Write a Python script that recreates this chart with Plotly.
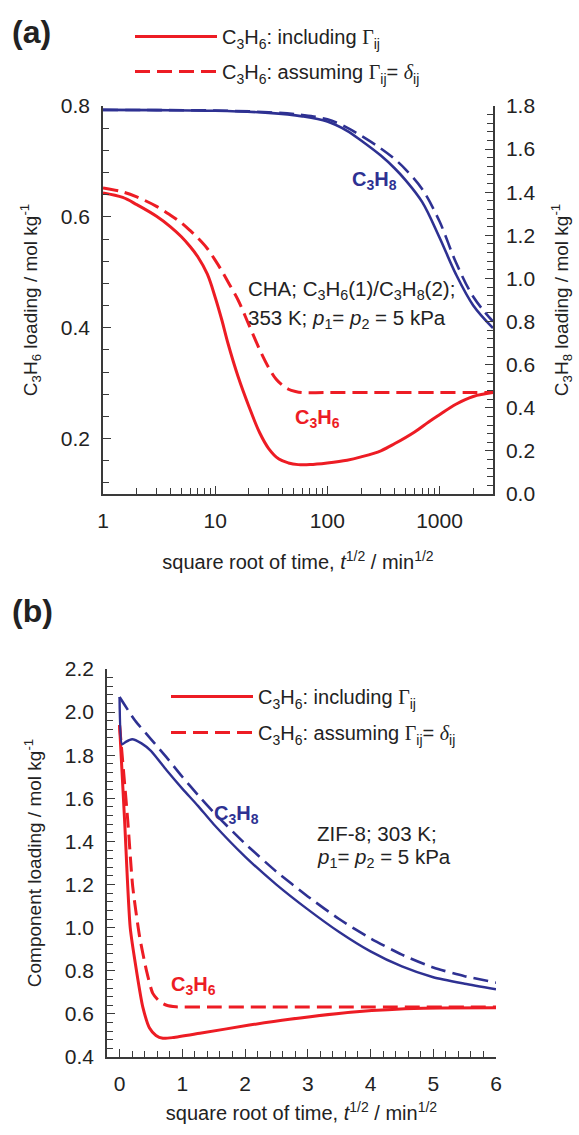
import plotly.graph_objects as go
import math

# ---------------- Panel (a): CHA, log x-axis ----------------
a_c3h6_incl_x = [1, 1.5, 2, 3, 4, 5, 6, 7, 8.5, 10, 11.5, 13, 16, 20, 25, 30, 37, 45, 55, 70, 100, 150, 200, 300, 400, 600, 800, 1000, 1400, 2000, 3000]
a_c3h6_incl_y = [0.643, 0.635, 0.622, 0.601, 0.582, 0.564, 0.546, 0.528, 0.497, 0.455, 0.413, 0.372, 0.312, 0.258, 0.210, 0.182, 0.163, 0.156, 0.153, 0.153, 0.156, 0.161, 0.167, 0.178, 0.191, 0.212, 0.230, 0.243, 0.262, 0.276, 0.283]

a_c3h6_delta_x = [1, 1.5, 2, 3, 4, 5, 6, 7, 8.5, 10, 11.5, 13, 16, 20, 25, 30, 35, 40, 45, 52, 60, 100, 3000]
a_c3h6_delta_y = [0.652, 0.645, 0.636, 0.619, 0.603, 0.589, 0.575, 0.562, 0.543, 0.522, 0.502, 0.483, 0.450, 0.405, 0.360, 0.328, 0.307, 0.296, 0.289, 0.285, 0.283, 0.283, 0.283]

a_c3h8_incl_x = [1, 3, 10, 30, 60, 100, 150, 200, 300, 400, 500, 700, 1000, 1400, 2000, 3000]
a_c3h8_incl_y = [1.782, 1.781, 1.778, 1.768, 1.752, 1.728, 1.685, 1.640, 1.570, 1.510, 1.455, 1.355, 1.190, 1.020, 0.875, 0.770]

a_c3h8_delta_x = [1, 3, 10, 30, 60, 100, 150, 200, 300, 400, 500, 700, 1000, 1400, 2000, 3000]
a_c3h8_delta_y = [1.782, 1.781, 1.779, 1.771, 1.758, 1.738, 1.700, 1.662, 1.603, 1.553, 1.505, 1.415, 1.265, 1.075, 0.915, 0.800]

a_xticks = [1, 10, 100, 1000]

# ---------------- Panel (b): ZIF-8, linear x-axis ----------------
b_c3h6_incl_x = [0, 0.08, 0.17, 0.27, 0.37, 0.48, 0.58, 0.69, 0.85, 1.28, 2.07, 2.71, 3.78, 4.84, 6.0]
b_c3h6_incl_y = [1.94, 1.50, 1.0, 0.80, 0.633, 0.533, 0.50, 0.487, 0.49, 0.51, 0.548, 0.575, 0.61, 0.626, 0.628]

b_c3h6_delta_x = [0, 0.13, 0.21, 0.32, 0.43, 0.53, 0.64, 0.75, 0.9, 1.5, 6.0]
b_c3h6_delta_y = [1.94, 1.50, 1.19, 0.958, 0.80, 0.695, 0.657, 0.64, 0.633, 0.632, 0.632]

b_c3h8_incl_x = [0, 0.04, 0.1, 0.2, 0.35, 0.5, 0.75, 1.0, 1.25, 1.5, 2.0, 2.5, 3.0, 3.5, 4.0, 4.5, 5.0, 5.5, 6.0]
b_c3h8_incl_y = [2.07, 1.85, 1.862, 1.874, 1.855, 1.82, 1.73, 1.645, 1.565, 1.48, 1.33, 1.20, 1.085, 0.98, 0.89, 0.82, 0.77, 0.74, 0.714]

b_c3h8_delta_x = [0, 0.25, 0.5, 0.75, 1.0, 1.25, 1.5, 2.0, 2.5, 3.0, 3.5, 4.0, 4.5, 5.0, 5.5, 6.0]
b_c3h8_delta_y = [2.07, 1.96, 1.875, 1.79, 1.70, 1.615, 1.535, 1.39, 1.26, 1.145, 1.04, 0.95, 0.875, 0.815, 0.775, 0.745]

RED = "#ED1C24"
BLUE = "#2E3192"
AX = "#3a3a3a"
TXT = "#222222"
FONT = "Liberation Sans, Arial, sans-serif"
DASH = "15px,7px"

GAMMA = "<span style='font-family:Liberation Serif'>Γ</span>"
DELTA = "<span style='font-family:Liberation Serif'><i>δ</i></span>"
name_incl = "C<sub>3</sub>H<sub>6</sub>: including " + GAMMA + "<sub>ij</sub>"
name_delta = "C<sub>3</sub>H<sub>6</sub>: assuming " + GAMMA + "<sub>ij</sub>= " + DELTA + "<sub>ij</sub>"

fig = go.Figure()

# Panel (a)
fig.add_trace(go.Scatter(x=a_c3h6_incl_x, y=a_c3h6_incl_y, mode="lines", name=name_incl,
                         line=dict(color=RED, width=3, shape="spline", smoothing=1.0),
                         xaxis="x", yaxis="y", legend="legend", legendgroup="a1"))
fig.add_trace(go.Scatter(x=a_c3h6_delta_x, y=a_c3h6_delta_y, mode="lines", name=name_delta,
                         line=dict(color=RED, width=3, dash=DASH, shape="spline", smoothing=1.0),
                         xaxis="x", yaxis="y", legend="legend", legendgroup="a2"))
fig.add_trace(go.Scatter(x=a_c3h8_incl_x, y=a_c3h8_incl_y, mode="lines", showlegend=False,
                         line=dict(color=BLUE, width=2.6, shape="spline", smoothing=1.0),
                         xaxis="x", yaxis="y2"))
fig.add_trace(go.Scatter(x=a_c3h8_delta_x, y=a_c3h8_delta_y, mode="lines", showlegend=False,
                         line=dict(color=BLUE, width=2.6, dash=DASH, shape="spline", smoothing=1.0),
                         xaxis="x", yaxis="y2"))

# Panel (b)
fig.add_trace(go.Scatter(x=b_c3h6_incl_x, y=b_c3h6_incl_y, mode="lines", name=name_incl,
                         line=dict(color=RED, width=3, shape="spline", smoothing=0.6),
                         xaxis="x3", yaxis="y3", legend="legend2", legendgroup="b1"))
fig.add_trace(go.Scatter(x=b_c3h6_delta_x, y=b_c3h6_delta_y, mode="lines", name=name_delta,
                         line=dict(color=RED, width=3, dash=DASH, shape="spline", smoothing=0.6),
                         xaxis="x3", yaxis="y3", legend="legend2", legendgroup="b2"))
fig.add_trace(go.Scatter(x=b_c3h8_incl_x, y=b_c3h8_incl_y, mode="lines", showlegend=False,
                         line=dict(color=BLUE, width=2.4, shape="spline", smoothing=0.6),
                         xaxis="x3", yaxis="y3"))
fig.add_trace(go.Scatter(x=b_c3h8_delta_x, y=b_c3h8_delta_y, mode="lines", showlegend=False,
                         line=dict(color=BLUE, width=2.6, dash=DASH, shape="spline", smoothing=0.6),
                         xaxis="x3", yaxis="y3"))

W, H = 579, 1135
def px(x): return x / W
def py(y): return 1 - y / H

tickfont = dict(family=FONT, size=21, color=TXT)
ytitlefont = dict(family=FONT, size=19, color=TXT)
xtitlefont = dict(family=FONT, size=20, color=TXT)
common = dict(showgrid=False, zeroline=False, showline=True, linecolor=AX, linewidth=1.5,
              ticks="inside", ticklen=8, tickwidth=1.3, tickcolor=AX, tickfont=tickfont,
              ticklabelstandoff=7, automargin=False)
minor_y = dict(ticks="inside", ticklen=6, tickwidth=1.2, tickcolor=AX, dtick=0.04, tick0=0)

xtitle = "square root of time, <i>t</i><sup>1/2</sup> / min<sup>1/2</sup>"

fig.update_layout(
    width=W, height=H, margin=dict(l=0, r=0, t=0, b=0, pad=0, autoexpand=False),
    paper_bgcolor="white", plot_bgcolor="white",
    font=dict(family=FONT, color=TXT),
    xaxis=dict(type="log", range=[0, math.log10(3000)], domain=[px(103), px(493)],
               tickvals=a_xticks, ticktext=[str(v) for v in a_xticks],
               minor=dict(ticks="inside", ticklen=6, tickwidth=1.2, tickcolor=AX, dtick="D1"),
               title=dict(text=xtitle, font=xtitlefont, standoff=24), anchor="y", **common),
    yaxis=dict(range=[0.1, 0.8], domain=[py(494), py(106)], tick0=0, dtick=0.2, tickformat=".1f",
               minor=minor_y,
               title=dict(text="C<sub>3</sub>H<sub>6</sub> loading / mol kg<sup>-1</sup>", font=ytitlefont, standoff=18),
               anchor="x", **common),
    yaxis2=dict(range=[0, 1.8], overlaying="y", side="right", tick0=0, dtick=0.2, tickformat=".1f",
                minor=minor_y,
                title=dict(text="C<sub>3</sub>H<sub>8</sub> loading / mol kg<sup>-1</sup>", font=ytitlefont, standoff=20),
                anchor="x", **common),
    xaxis3=dict(range=[-0.2, 6], domain=[px(107), px(496)], tick0=0, dtick=1,
                minor=dict(ticks="inside", ticklen=6, tickwidth=1.2, tickcolor=AX, dtick=0.2, tick0=0),
                title=dict(text=xtitle, font=xtitlefont, standoff=12), anchor="y3", **common),
    yaxis3=dict(range=[0.4, 2.2], domain=[py(1057), py(669)], tick0=0, dtick=0.2, tickformat=".1f",
                minor=minor_y,
                title=dict(text="Component loading / mol kg<sup>-1</sup>", font=ytitlefont, standoff=18),
                anchor="x3", **common),
    legend=dict(x=px(130), y=py(17), xanchor="left", yanchor="top", bgcolor="rgba(0,0,0,0)",
                font=dict(family=FONT, size=20, color=TXT), itemwidth=82, tracegroupgap=6,
                traceorder="grouped"),
    legend2=dict(x=px(166), y=py(677), xanchor="left", yanchor="top", bgcolor="rgba(0,0,0,0)",
                 font=dict(family=FONT, size=20, color=TXT), itemwidth=82, tracegroupgap=7,
                 traceorder="grouped"),
    showlegend=True,
)

def note(text, x, y, size, color, xanchor="center"):
    return dict(text=text, x=px(x), y=py(y), xref="paper", yref="paper", xanchor=xanchor,
                yanchor="middle", showarrow=False, font=dict(family=FONT, size=size, color=color))

ann = [
    note("<b>(a)</b>", 10, 32, 32, TXT, "left"),
    note("<b>(b)</b>", 10, 611, 32, TXT, "left"),
    note("<b>C<sub>3</sub>H<sub>8</sub></b>", 374, 180, 20, BLUE),
    note("<b>C<sub>3</sub>H<sub>6</sub></b>", 317, 418, 20, RED),
    note("CHA; C<sub>3</sub>H<sub>6</sub>(1)/C<sub>3</sub>H<sub>8</sub>(2);", 246, 290, 20.5, TXT, "left"),
    note("353 K; <i>p</i><sub>1</sub>= <i>p</i><sub>2</sub> = 5 kPa", 246, 319, 20.5, TXT, "left"),
    note("<b>C<sub>3</sub>H<sub>8</sub></b>", 236, 814, 20, BLUE),
    note("<b>C<sub>3</sub>H<sub>6</sub></b>", 193, 985, 20, RED),
    note("ZIF-8; 303 K;", 315, 833, 20.5, TXT, "left"),
    note("<i>p</i><sub>1</sub>= <i>p</i><sub>2</sub> = 5 kPa", 315, 858, 20.5, TXT, "left"),
]
fig.update_layout(annotations=ann)

fig.write_html("out.html")
